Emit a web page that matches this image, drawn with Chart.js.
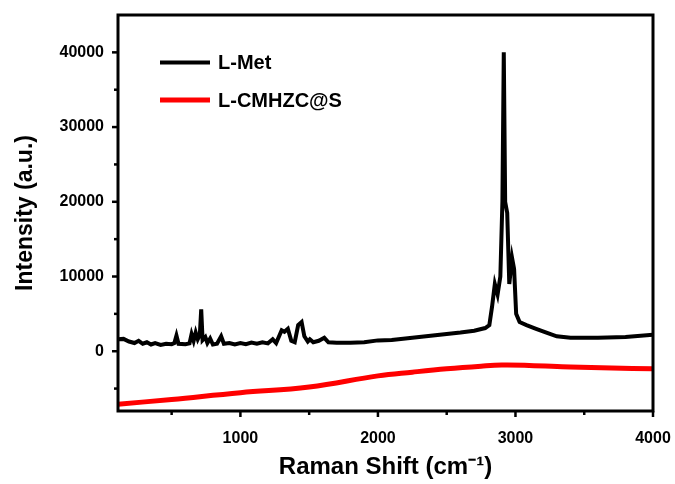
<!DOCTYPE html>
<html>
<head>
<meta charset="utf-8">
<script src="https://cdn.jsdelivr.net/npm/chart.js@4.4.1/dist/chart.umd.min.js"></script>
<style>
    html, body { margin: 0; padding: 0; background: #fff; }
    canvas { display: block; }
</style>
</head>
<body>
<canvas id="chart-raman" width="675" height="484"></canvas>
<script>
// Raman spectra: L-Met vs L-CMHZC@S

const seriesNames = ['L-Met', 'L-CMHZC@S'];

// L-Met spectrum (cm-1, a.u.)
const metShift = [
    110, 150, 190, 230, 260, 290, 320, 350, 380, 420, 460, 500, 520, 535, 550,
    600, 630, 645, 660, 675, 690, 705, 715, 725, 745, 760, 780, 800, 830, 860,
    880, 920, 960, 1000, 1040, 1080, 1120, 1160, 1200, 1235, 1260, 1300, 1320,
    1345, 1370, 1395, 1420, 1445, 1465, 1490, 1505, 1530, 1570, 1610, 1640,
    1700, 1800, 1900, 2000, 2100, 2200, 2300, 2400, 2500, 2600, 2700, 2780,
    2810, 2830, 2850, 2870, 2890, 2905, 2915, 2925, 2940, 2955, 2975, 2990,
    3005, 3030, 3080, 3150, 3230, 3300, 3400, 3600, 3800, 4000,
];
const metIntensity = [
    1600, 1650, 1300, 1100, 1400, 1000, 1200, 900, 1100, 850, 1000, 950, 1100, 2100, 1000,
    950, 1050, 2300, 1400, 2500, 1600, 2200, 5600, 1500, 1900, 1100, 1700, 900, 1000, 2000,
    1000, 1100, 900, 1100, 950, 1150, 1000, 1200, 1050, 1600, 1100, 2800, 2600,
    3000, 1400, 1200, 3500, 3900, 2000, 1300, 1600, 1200, 1400, 1800, 1200,
    1150, 1150, 1200, 1450, 1500, 1700, 1900, 2100, 2300, 2500, 2750, 3100,
    3500, 6000, 9000, 7600, 10000, 20000, 40000, 20000, 18500, 9000, 12500, 11000,
    5000, 3900, 3500, 3000, 2450, 2000, 1800, 1800, 1900, 2200,
];

// L-CMHZC@S spectrum
const cmhzcShift = [110, 500, 1000, 1500, 2000, 2250, 2500, 2750, 2900, 3100, 3400, 3700, 4000];
const cmhzcIntensity = [-7100, -6450, -5550, -4800, -3300, -2800, -2350, -2000, -1850, -1900, -2100, -2250, -2350];

// tick positions (all) and the labelled ones
const xTickValues = [500, 1000, 1500, 2000, 2500, 3000, 3500, 4000];
const xTicksMajor = [1000, 2000, 3000, 4000];
const yTickValues = [-5000, 0, 5000, 10000, 15000, 20000, 25000, 30000, 35000, 40000];
const yTicksMajor = [0, 10000, 20000, 30000, 40000];

const fontFamily = '"Liberation Sans", Arial, sans-serif';

const toPoints = (xs, ys) => xs.map((x, i) => ({ x: x, y: ys[i] }));

// frame + outward ticks (major long, minor short)
const frameTicks = {
    id: 'frameTicks',
    afterDraw(chart) {
        const { ctx, chartArea: a, scales } = chart;
        ctx.save();
        ctx.strokeStyle = '#000';
        ctx.lineWidth = 2.5;
        scales.x.ticks.forEach(t => {
            const px = scales.x.getPixelForValue(t.value);
            const len = xTicksMajor.includes(t.value) ? 6 : 4;
            ctx.beginPath();
            ctx.moveTo(px, a.bottom);
            ctx.lineTo(px, a.bottom + len);
            ctx.stroke();
        });
        scales.y.ticks.forEach(t => {
            const py = scales.y.getPixelForValue(t.value);
            const len = yTicksMajor.includes(t.value) ? 6 : 4;
            ctx.beginPath();
            ctx.moveTo(a.left, py);
            ctx.lineTo(a.left - len, py);
            ctx.stroke();
        });
        ctx.lineWidth = 3;
        ctx.strokeRect(a.left, a.top, a.right - a.left, a.bottom - a.top);
        ctx.restore();
    },
};

// legend drawn inside the plot, top-left
const insideLegend = {
    id: 'insideLegend',
    afterDraw(chart) {
        const { ctx } = chart;
        const rows = [62.5, 100];
        ctx.save();
        ctx.font = 'bold 20px ' + fontFamily;
        ctx.textBaseline = 'middle';
        chart.data.datasets.forEach((ds, i) => {
            ctx.strokeStyle = ds.borderColor;
            ctx.lineWidth = i === 0 ? 4 : 5;
            ctx.beginPath();
            ctx.moveTo(160, rows[i]);
            ctx.lineTo(210, rows[i]);
            ctx.stroke();
            ctx.fillStyle = '#000';
            ctx.fillText(ds.label, 218, rows[i] + 1);
        });
        ctx.restore();
    },
};

const ramanCtx = document.getElementById('chart-raman');
const chartRaman = new Chart(ramanCtx, {
    type: 'line',
    data: {
        datasets: [
            {
                label: seriesNames[0],
                data: toPoints(metShift, metIntensity),
                borderColor: '#000000',
                borderWidth: 4,
                pointRadius: 0,
                tension: 0,
            },
            {
                label: seriesNames[1],
                data: toPoints(cmhzcShift, cmhzcIntensity),
                borderColor: '#ff0000',
                borderWidth: 5,
                pointRadius: 0,
                tension: 0.4,
            },
        ],
    },
    options: {
        responsive: false,
        animation: false,
        layout: { padding: { top: 15, right: 22, left: 0, bottom: 0 } },
        plugins: {
            legend: { display: false },
            tooltip: { enabled: false },
        },
        scales: {
            x: {
                type: 'linear',
                min: 110,
                max: 4000,
                afterFit: s => { s.height = 73; s.paddingLeft = 0; s.paddingRight = 0; },
                afterBuildTicks: s => { s.ticks = xTickValues.map(v => ({ value: v })); },
                grid: { display: false, drawTicks: true, tickLength: 6 },
                border: { display: false },
                ticks: {
                    maxRotation: 0,
                    autoSkip: false,
                    padding: 12,
                    color: '#000',
                    font: { family: fontFamily, size: 16, weight: 'bold' },
                    callback: v => xTicksMajor.includes(v) ? String(v) : '',
                },
                title: {
                    display: true,
                    text: 'Raman Shift (cm\u207B\u00B9)',
                    color: '#000',
                    font: { family: fontFamily, size: 24, weight: 'bold', lineHeight: 1 },
                    padding: { top: 0, bottom: 5 },
                },
            },
            y: {
                min: -8000,
                max: 45000,
                afterFit: s => { s.width = 118; s.paddingTop = 0; s.paddingBottom = 0; },
                afterBuildTicks: s => { s.ticks = yTickValues.map(v => ({ value: v })); },
                grid: { display: false, drawTicks: true, tickLength: 6 },
                border: { display: false },
                ticks: {
                    autoSkip: false,
                    padding: 8,
                    color: '#000',
                    font: { family: fontFamily, size: 16, weight: 'bold' },
                    callback: v => yTicksMajor.includes(v) ? String(v) : '',
                },
                title: {
                    display: true,
                    text: 'Intensity (a.u.)',
                    color: '#000',
                    font: { family: fontFamily, size: 23, weight: 'bold', lineHeight: 1 },
                    padding: { top: 14, bottom: 0 },
                },
            },
        },
    },
    plugins: [frameTicks, insideLegend],
});
</script>
</body>
</html>
